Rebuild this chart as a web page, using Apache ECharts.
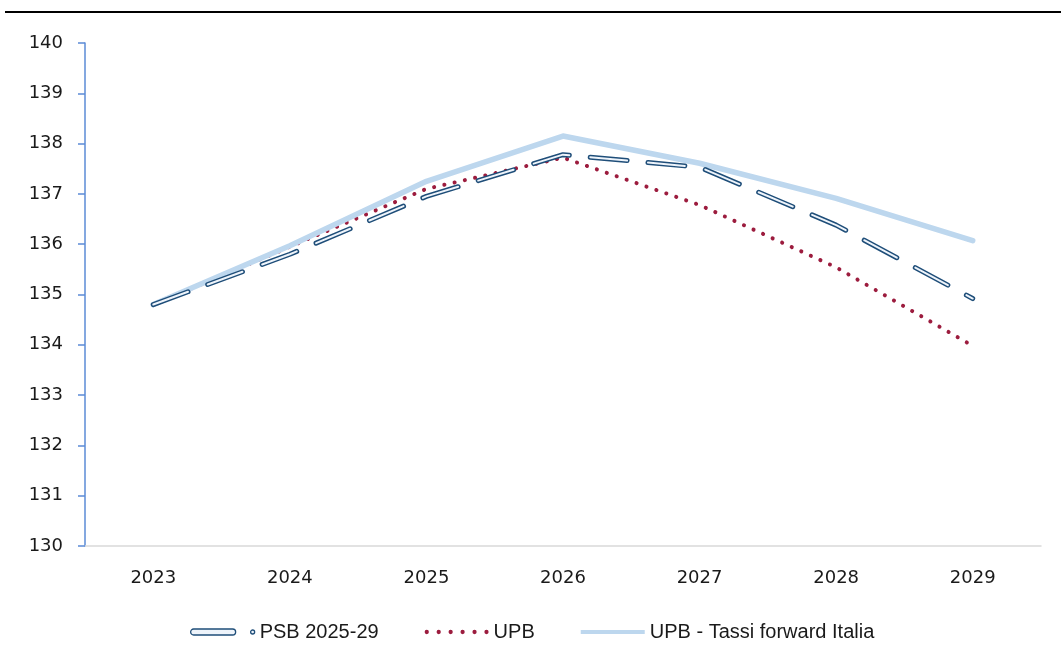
<!DOCTYPE html>
<html>
<head>
<meta charset="utf-8">
<script src="https://cdn.jsdelivr.net/npm/echarts@6/dist/echarts.min.js"></script>
<style>
html,body{margin:0;padding:0;background:#fff;}
#chart{width:1061px;height:666px;}
</style>
</head>
<body>
<div id="chart"></div>
<script>
var years = ['2023', '2024', '2025', '2026', '2027', '2028', '2029'];
var psb = [134.8, 135.8, 136.95, 137.78, 137.53, 136.38, 134.92];
var upb = [134.8, 135.95, 137.1, 137.72, 136.78, 135.54, 133.98];
var upbForward = [134.8, 135.97, 137.25, 138.15, 137.61, 136.91, 136.07];
var seriesNames = ['PSB 2025-29', 'UPB', 'UPB - Tassi forward Italia'];

var DARK = '#1F4E79', INNER = '#EEF4FB', RED = '#9C1C3E', LIGHT = '#BDD7EE';

var chart = echarts.init(document.getElementById('chart'), null, {renderer: 'canvas'});

var psbIcon = 'path://M3,0 L42,0 A3,3 0 0 1 42,6 L3,6 A3,3 0 0 1 3,0 Z M62,1 A2,2 0 1 1 62,5 A2,2 0 1 1 62,1 Z';
var dotsIcon = 'path://' + [2, 13.2, 24.4, 35.6, 46.8, 58].map(function (c) {
  return 'M' + c + ',0 A2,2 0 1 1 ' + c + ',4 A2,2 0 1 1 ' + c + ',0 Z';
}).join(' ');
var lineIcon = 'path://M0,0 L64,0 L64,4 L0,4 Z';

var option = {
  animation: false,
  backgroundColor: '#fff',
  graphic: [{
    type: 'rect', left: 5, top: 11,
    shape: {width: 1056, height: 2},
    style: {fill: '#000'}
  }],
  grid: {left: 85, right: 20, top: 43, bottom: 120},
  legend: {
    left: 185, top: 617,
    itemWidth: 64, itemHeight: 6, itemGap: 46,
    symbolKeepAspect: true,
    textStyle: {fontFamily: 'Liberation Sans', fontSize: 20, color: '#1a1a1a'},
    data: [
      {name: seriesNames[0], icon: psbIcon, itemStyle: {color: INNER, borderColor: DARK, borderWidth: 1.3}},
      {name: seriesNames[1], icon: dotsIcon, itemStyle: {color: RED, borderWidth: 0}},
      {name: seriesNames[2], icon: lineIcon, itemStyle: {color: LIGHT, borderWidth: 0}}
    ]
  },
  xAxis: {
    type: 'category',
    data: years,
    boundaryGap: true,
    axisLine: {show: true, lineStyle: {color: '#D9D9D9', width: 1.5}},
    axisTick: {show: false},
    axisLabel: {margin: 23, fontFamily: 'DejaVu Sans', fontSize: 18, color: '#1a1a1a'},
    splitLine: {show: false}
  },
  yAxis: {
    type: 'value',
    min: 130, max: 140, interval: 1,
    axisLine: {show: true, lineStyle: {color: '#5B8BD6', width: 1.5}},
    axisTick: {show: true, length: 7, lineStyle: {color: '#5B8BD6', width: 1.5}},
    axisLabel: {margin: 22, fontFamily: 'DejaVu Sans', fontSize: 18, color: '#1a1a1a'},
    splitLine: {show: false}
  },
  series: [
    {
      name: seriesNames[1], type: 'line', data: upb, symbol: 'none', z: 2,
      lineStyle: {color: RED, width: 4, type: [0.1, 10.4], cap: 'round'},
      itemStyle: {color: RED}
    },
    {
      name: seriesNames[2], type: 'line', data: upbForward, symbol: 'none', z: 3,
      lineStyle: {color: LIGHT, width: 5.5, cap: 'round', join: 'round'},
      itemStyle: {color: LIGHT}
    },
    {
      name: seriesNames[0], type: 'line', data: psb, symbol: 'none', z: 4,
      lineStyle: {color: DARK, width: 5, type: [37, 21], cap: 'round', join: 'round'},
      itemStyle: {color: DARK}
    },
    {
      name: 'psb-inner', type: 'line', data: psb, symbol: 'none', z: 5,
      lineStyle: {color: INNER, width: 2, type: [37, 21], cap: 'round', join: 'round'},
      itemStyle: {color: INNER}, silent: true
    }
  ]
};
chart.setOption(option);
</script>
</body>
</html>
